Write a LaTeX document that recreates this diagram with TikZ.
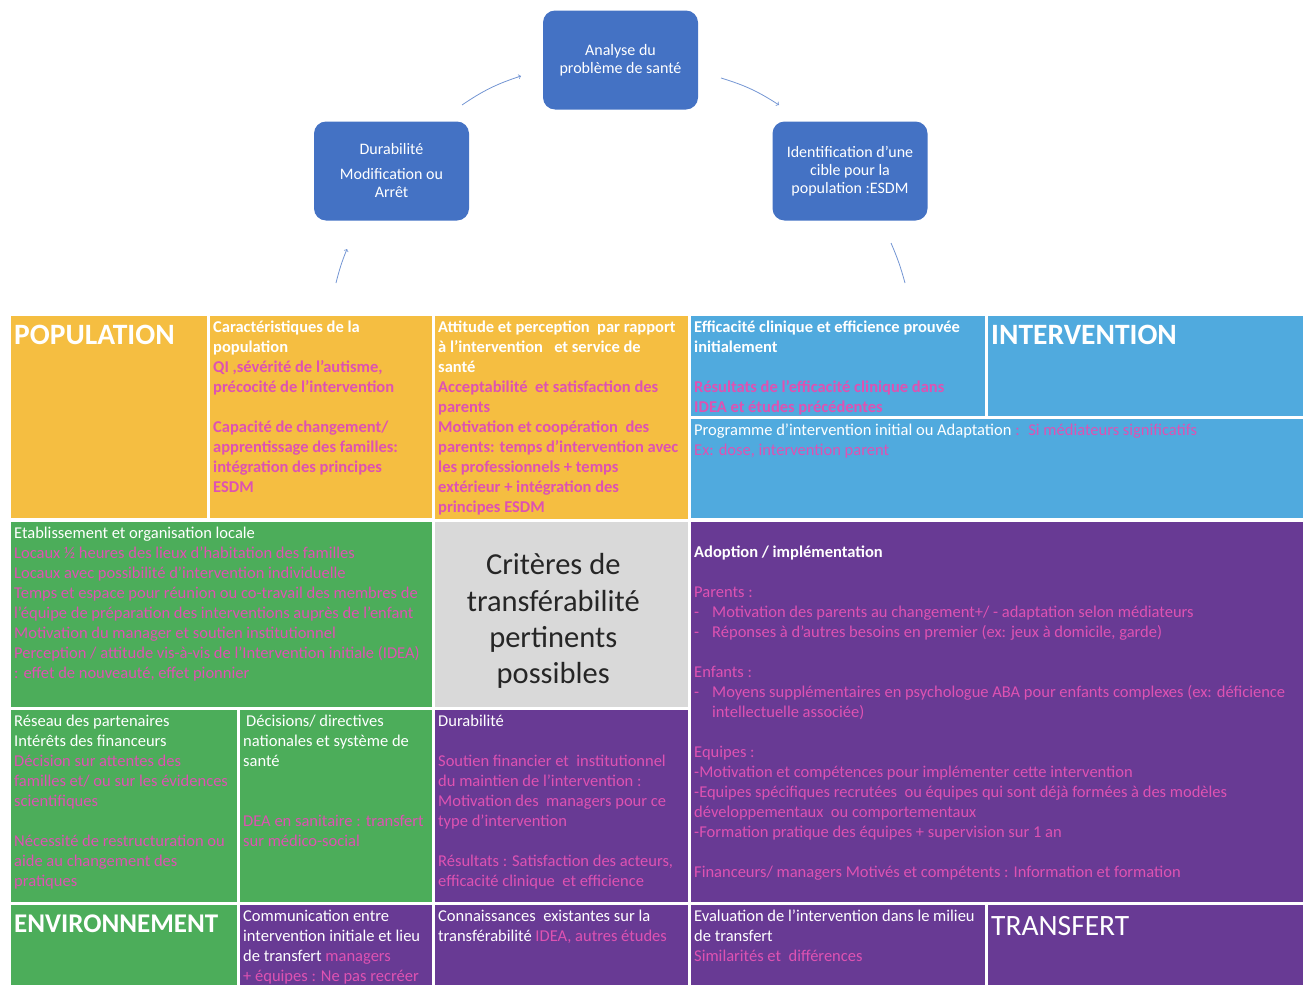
\documentclass[tikz,border=0pt]{standalone}
\usepackage{fontspec}
\setmainfont{Carlito}
\definecolor{popyellow}{RGB}{245,190,65}
\definecolor{intblue}{RGB}{80,170,222}
\definecolor{envgreen}{RGB}{76,173,90}
\definecolor{trfpurple}{RGB}{104,58,148}
\definecolor{critgray}{RGB}{217,217,217}
\definecolor{cycleblue}{RGB}{68,114,196}
\definecolor{hintpink}{RGB}{222,82,178}
\newcommand{\pk}[1]{\textcolor{hintpink}{#1}}
\newcommand{\dashitem}{\makebox[18pt][l]{-}}
\begin{document}
\begin{tikzpicture}[
  x=1pt, y=-1pt,
  cell/.style={draw=white, line width=2.5pt, anchor=north west, inner sep=0pt},
  txt/.style={anchor=north west, align=left, inner sep=0pt, text=white,
    xshift=6pt, yshift=-8pt, font=\fontsize{16.5}{20}\selectfont},
  head/.style={anchor=north west, inner sep=0pt, text=white,
    xshift=6pt, yshift=-12pt, font=\fontsize{29.5}{32}\selectfont\bfseries},
  cyc/.style={rounded corners=12pt, fill=cycleblue, text=white, align=center,
    minimum width=155pt, minimum height=99pt, font=\fontsize{16}{18}\selectfont},
  flow/.style={draw=cycleblue!75, line width=0.8pt}
  ]
  \useasboundingbox (0,0) rectangle (1310,985);
  \clip (0,0) rectangle (1310,985);

  % cycle on top
  \node[cyc] (analyse) at (620.5,60) {Analyse du\\problème de santé};
  \node[cyc] (durab) at (391.5,171) {Durabilité\\[7pt]Modification ou\\Arrêt};
  \node[cyc] (ident) at (850,171) {Identification d’une\\cible pour la\\population :ESDM};

  \coordinate (fa) at (462,105); \coordinate (fb) at (521,76);
  \coordinate (fc) at (721,78);  \coordinate (fd) at (779,105);
  \coordinate (fe) at (336,283); \coordinate (ff) at (347,249);
  \coordinate (fg) at (891,243); \coordinate (fh) at (905,283);
  \draw[flow, ->] (fa) to[bend left=8] (fb);
  \draw[flow, ->] (fc) to[bend left=8] (fd);
  \draw[flow, ->] (fe) to[bend left=4] (ff);
  \draw[flow] (fg) to[bend left=4] (fh);

  % population
  \node[cell, fill=popyellow, minimum width=199pt, minimum height=205pt] (pop) at (8,313) {};
  \node[head] (popH) at (pop.north west) {POPULATION};
  \node[cell, fill=popyellow, minimum width=225pt, minimum height=205pt] (car) at (207,313) {};
  \node[txt, font=\fontsize{16.5}{20}\selectfont\bfseries] (carT) at (car.north west)
    {Caractéristiques de la\\population\\\pk{QI ,sévérité de l’autisme,}\\\pk{précocité de l’intervention}\\[20pt]%
     \pk{Capacité de changement/}\\\pk{apprentissage des familles:}\\\pk{intégration des principes}\\\pk{ESDM}};
  \node[cell, fill=popyellow, minimum width=256pt, minimum height=206pt] (att) at (432,313) {};
  \node[txt, font=\fontsize{16.5}{20}\selectfont\bfseries] (attT) at (att.north west)
    {Attitude et perception~ par rapport\\à l’intervention~~ et service de\\santé\\%
     \pk{Acceptabilité~ et satisfaction des}\\\pk{parents}\\\pk{Motivation et coopération~ des}\\%
     \pk{parents: temps d’intervention avec}\\\pk{les professionnels + temps}\\%
     \pk{extérieur + intégration des}\\\pk{principes ESDM}};

  % intervention
  \node[cell, fill=intblue, minimum width=297pt, minimum height=103pt] (eff) at (688,313) {};
  \node[txt, font=\fontsize{16.5}{20}\selectfont\bfseries] (effT) at (eff.north west)
    {Efficacité clinique et efficience prouvée\\initialement\\[20pt]%
     \pk{Résultats de l’efficacité clinique dans}\\\pk{IDEA et études précédentes}};
  \node[cell, fill=intblue, minimum width=318pt, minimum height=103pt] (intv) at (985,313) {};
  \node[head] (intvH) at (intv.north west) {INTERVENTION};
  \node[cell, fill=intblue, minimum width=615pt, minimum height=102pt] (prog) at (688,416) {};
  \node[txt] (progT) at (prog.north west)
    {Programme d’intervention initial ou Adaptation \pk{:~ Si médiateurs significatifs}\\%
     \pk{Ex: dose, intervention parent}};

  % environnement
  \node[cell, fill=envgreen, minimum width=424pt, minimum height=188pt] (etab) at (8,519) {};
  \node[txt] (etabT) at (etab.north west)
    {Etablissement et organisation locale\\\pk{Locaux ½ heures des lieux d’habitation des familles}\\%
     \pk{Locaux avec possibilité d’intervention individuelle}\\%
     \pk{Temps et espace pour réunion ou co-travail des membres de}\\%
     \pk{l’équipe de préparation des interventions auprès de l’enfant}\\%
     \pk{Motivation du manager et soutien institutionnel}\\%
     \pk{Perception / attitude vis-à-vis de l’Intervention initiale (IDEA)}\\%
     \pk{: effet de nouveauté, effet pionnier}};
  \node[cell, fill=critgray, minimum width=256pt, minimum height=188pt] (crit) at (432,519) {};
  \node[align=center, text=black!85, font=\fontsize{30.5}{36.3}\selectfont, xshift=-8pt, yshift=-7pt] (critT) at (crit.center)
    {Critères de\\transférabilité\\pertinents\\possibles};
  \node[cell, fill=envgreen, minimum width=229pt, minimum height=195pt] (res) at (8,707) {};
  \node[txt] (resT) at (res.north west)
    {Réseau des partenaires\\Intérêts des financeurs\\\pk{Décision sur attentes des}\\%
     \pk{familles et/ ou sur les évidences}\\\pk{scientifiques}\\[20pt]%
     \pk{Nécessité de restructuration ou}\\\pk{aide au changement des}\\\pk{pratiques}};
  \node[cell, fill=envgreen, minimum width=195pt, minimum height=195pt] (dec) at (237,707) {};
  \node[txt] (decT) at (dec.north west)
    {\hspace{3pt}Décisions/ directives\\nationales et système de\\santé\\[40pt]%
     \pk{DEA en sanitaire : transfert}\\\pk{sur médico-social}};
  \node[cell, fill=envgreen, minimum width=229pt, minimum height=100pt] (env) at (8,902) {};
  \node[head, font=\fontsize{27}{30}\selectfont\bfseries, yshift=-1pt] (envH) at (env.north west) {ENVIRONNEMENT};

  % transfert
  \node[cell, fill=trfpurple, minimum width=615pt, minimum height=383pt] (adopt) at (688,519) {};
  \node[txt, yshift=-19pt] (adoptT) at (adopt.north west)
    {\textbf{Adoption / implémentation}\\[20pt]\pk{Parents :}\\%
     \pk{\dashitem Motivation des parents au changement+/ - adaptation selon médiateurs}\\%
     \pk{\dashitem Réponses à d’autres besoins en premier (ex: jeux à domicile, garde)}\\[20pt]%
     \pk{Enfants :}\\%
     \pk{\dashitem Moyens supplémentaires en psychologue ABA pour enfants complexes (ex: déficience}\\%
     \pk{\hspace{18pt}intellectuelle associée)}\\[20pt]%
     \pk{Equipes :}\\\pk{-Motivation et compétences pour implémenter cette intervention}\\%
     \pk{-Equipes spécifiques recrutées~ ou équipes qui sont déjà formées à des modèles}\\%
     \pk{développementaux~ ou comportementaux}\\\pk{-Formation pratique des équipes + supervision sur 1 an}\\[20pt]%
     \pk{Financeurs/ managers Motivés et compétents : Information et formation}};
  \node[cell, fill=trfpurple, minimum width=256pt, minimum height=195pt] (dur) at (432,707) {};
  \node[txt] (durT) at (dur.north west)
    {Durabilité\\[20pt]\pk{Soutien financier et~ institutionnel}\\\pk{du maintien de l’intervention :}\\%
     \pk{Motivation des~ managers pour ce}\\\pk{type d’intervention}\\[20pt]%
     \pk{Résultats : Satisfaction des acteurs,}\\\pk{efficacité clinique~ et efficience}};
  \node[cell, fill=trfpurple, minimum width=195pt, minimum height=100pt] (comm) at (237,902) {};
  \node[txt] (commT) at (comm.north west)
    {Communication entre\\intervention initiale et lieu\\de transfert \pk{managers}\\\pk{+ équipes : Ne pas recréer}};
  \node[cell, fill=trfpurple, minimum width=256pt, minimum height=100pt] (conn) at (432,902) {};
  \node[txt] (connT) at (conn.north west)
    {Connaissances~ existantes sur la\\transférabilité \pk{IDEA, autres études}};
  \node[cell, fill=trfpurple, minimum width=297pt, minimum height=100pt] (eval) at (688,902) {};
  \node[txt] (evalT) at (eval.north west)
    {Evaluation de l’intervention dans le milieu\\de transfert\\\pk{Similarités et~ différences}};
  \node[cell, fill=trfpurple, minimum width=318pt, minimum height=100pt] (trf) at (985,902) {};
  \node[head, font=\fontsize{29.5}{32}\selectfont, yshift=-2pt] (trfH) at (trf.north west) {TRANSFERT};
\end{tikzpicture}
\end{document}
